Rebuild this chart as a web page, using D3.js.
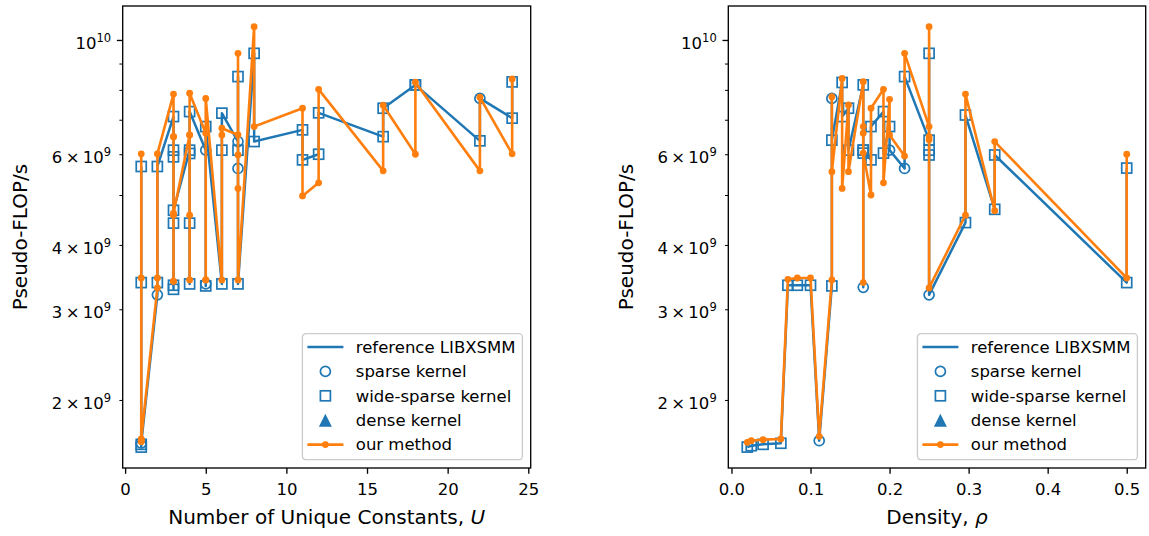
<!DOCTYPE html>
<html>
<head>
<meta charset="utf-8">
<script src="https://cdn.jsdelivr.net/npm/d3@7"></script>
<style>
  body { margin: 0; background: #fff; }
  svg { display: block; }
  text { font-family: "DejaVu Sans", sans-serif; fill: #000; }
</style>
</head>
<body>
<svg id="chart" width="1149" height="536"></svg>
<script>
// ---- data (performance in 1e9 pseudo-FLOP/s) ----
// kernel type: "s" sparse, "w" wide-sparse, "d" dense

// left panel: number of unique constants U
const uVals = [1, 1, 1, 1, 1, 2, 2, 2, 3, 3, 3, 3, 3, 3, 3, 4, 4, 4, 4, 4,
  5, 5, 5, 5, 6, 6, 6, 7, 7, 7, 7, 7, 8, 8, 11, 11, 12, 12, 16, 16, 18, 18, 22, 22, 24, 24];
const uRef = [5.68, 3.38, 1.62, 1.64, 1.65, 3.20, 3.38, 5.68, 7.10, 6.11, 5.93, 3.28, 3.34, 4.41, 4.67,
  6.11, 6.02, 4.41, 3.36, 7.26, 6.11, 3.36, 3.33, 6.79, 3.36, 6.11, 7.21, 6.35, 8.49, 5.63, 6.11, 3.36,
  9.42, 6.35, 6.69, 5.85, 6.00, 7.22, 6.49, 7.37, 8.18, 8.18, 6.37, 7.70, 7.05, 8.29];
const uOurs = [6.01, 3.45, 1.66, 1.67, 1.68, 3.30, 3.45, 6.01, 7.85, 6.49, 6.49, 3.40, 3.40, 4.57, 4.61,
  6.54, 6.54, 4.57, 3.42, 7.88, 6.59, 3.42, 3.42, 7.70, 3.42, 6.54, 6.74, 6.54, 9.42, 5.98, 5.15, 3.42,
  10.61, 6.79, 7.37, 4.98, 5.28, 8.02, 5.57, 7.47, 6.00, 8.28, 5.57, 7.74, 6.01, 8.40];
const uType = ["w", "w", "w", "w", "s", "s", "w", "w", "w", "w", "w", "w", "w", "w", "w",
  "w", "w", "w", "w", "w", "s", "s", "w", "w", "w", "w", "w", "s", "w", "s", "w", "w",
  "w", "w", "w", "w", "w", "w", "w", "w", "w", "w", "w", "s", "w", "w"];

// right panel: density rho
const rhoVals = [0.020, 0.025, 0.040, 0.0625, 0.0714, 0.0833, 0.100, 0.111, 0.127, 0.127, 0.127,
  0.140, 0.140, 0.148, 0.148, 0.1667, 0.1667, 0.1667, 0.1667, 0.1667, 0.1765, 0.1765,
  0.1923, 0.1923, 0.200, 0.200, 0.219, 0.219, 0.25, 0.25, 0.25, 0.25, 0.25,
  0.296, 0.296, 0.333, 0.333, 0.5, 0.5];
const rhoRef = [1.62, 1.63, 1.64, 1.648, 3.34, 3.34, 3.34, 1.667, 3.33, 7.70, 6.39,
  8.27, 7.10, 7.37, 6.11, 8.18, 3.31, 6.11, 6.03, 6.11, 5.85, 6.79,
  7.26, 6.03, 6.79, 6.11, 5.63, 8.49, 6.39, 9.42, 6.11, 5.98, 3.20,
  4.42, 7.15, 4.69, 5.98, 3.38, 5.64];
const rhoOurs = [1.655, 1.667, 1.675, 1.68, 3.43, 3.45, 3.45, 1.70, 3.42, 7.76, 5.55,
  8.42, 5.15, 7.48, 5.55, 8.30, 3.38, 6.79, 6.59, 6.03, 5.00, 7.37,
  8.02, 5.28, 7.67, 6.54, 5.95, 9.42, 6.79, 10.61, 6.49, 6.40, 3.30,
  4.57, 7.85, 4.66, 6.35, 3.45, 6.00];
const rhoType = ["w", "w", "w", "w", "w", "w", "w", "s", "w", "s", "w",
  "w", "w", "w", "w", "w", "s", "w", "w", "w", "w", "w",
  "w", "w", "w", "s", "s", "w", "w", "w", "w", "w", "s",
  "w", "w", "w", "w", "w", "w"];

// ticks
const uTicks = [0, 5, 10, 15, 20, 25];
const rhoTicks = [0, 0.1, 0.2, 0.3, 0.4, 0.5];
const yMinor = [2, 3, 4, 5, 6, 7, 8, 9];
const yLabeled = [2, 3, 4, 6];
const legendLabels = ["reference LIBXSMM", "sparse kernel", "wide-sparse kernel", "dense kernel", "our method"];

const blue = "#1f77b4", orange = "#ff7f0e";
const plotTop = 6, plotBottom = 468;

const svg = d3.select("#chart");

// shared log y scale (values in units of 1e9)
const y = d3.scaleLog().domain([1.4755, 11.64]).range([plotBottom, plotTop]);

drawPanel({
  x: d3.scaleLinear().domain([-0.15, 25.15]).range([122.7, 530.7]),
  ticks: uTicks, fmt: d3.format("d"),
  xs: uVals, ref: uRef, ours: uOurs, types: uType,
  label: ["Number of Unique Constants, ", "U"],
  ylabelX: 20
});

drawPanel({
  x: d3.scaleLinear().domain([-0.004, 0.524]).range([728.3, 1145.7]),
  ticks: rhoTicks, fmt: d3.format(".1f"),
  xs: rhoVals, ref: rhoRef, ours: rhoOurs, types: rhoType,
  label: ["Density, ", "\u03c1"],
  ylabelX: 625.5
});

function drawPanel(cfg) {
  const x = cfg.x;
  const [x0, x1] = x.range();
  const g = svg.append("g");

  const pts = cfg.xs.map((v, i) => ({ x: v, ref: cfg.ref[i], ours: cfg.ours[i], type: cfg.types[i] }));

  // x axis
  const gx = g.append("g")
    .attr("transform", "translate(0," + plotBottom + ")")
    .call(d3.axisBottom(x).tickValues(cfg.ticks).tickFormat(cfg.fmt).tickSize(5.8).tickPadding(9.5));
  gx.select(".domain").remove();

  // y axis: minor ticks (2..9 e9) and major tick (1e10)
  const gyMinor = g.append("g")
    .attr("transform", "translate(" + x0 + ",0)")
    .call(d3.axisLeft(y).tickValues(yMinor).tickSize(3.3).tickPadding(8.3)
      .tickFormat(d => (yLabeled.includes(d) ? d : "")));
  const gyMajor = g.append("g")
    .attr("transform", "translate(" + x0 + ",0)")
    .call(d3.axisLeft(y).tickValues([10]).tickSize(5.8).tickPadding(5.8).tickFormat(d => d));
  gyMinor.select(".domain").remove();
  gyMajor.select(".domain").remove();
  gyMinor.selectAll(".tick line").attr("stroke-width", 1);

  [gx, gyMinor, gyMajor].forEach(a => {
    a.attr("font-size", null).attr("font-family", null);
    a.selectAll(".tick line").attr("stroke", "#000");
    a.selectAll(".tick text").style("font-size", "16.5px").attr("fill", "#000");
  });
  gx.selectAll(".tick line").attr("stroke-width", 1.33);
  gyMajor.selectAll(".tick line").attr("stroke-width", 1.33);

  // mathtext-like labels: 6 × 10^9, 10^10
  [gyMinor, gyMajor].forEach(a => {
    a.selectAll(".tick text").each(function (d) {
      const t = d3.select(this);
      const txt = t.text();
      t.text(null).attr("dy", "0.52em");
      if (!txt) return;
      if (d === 10) {
        t.append("tspan").text("10");
        t.append("tspan").style("font-size", "11.5px").attr("dy", "-0.62em").text("10");
      } else {
        t.append("tspan").text(d + "\u2009\u00d7\u200910");
        t.append("tspan").style("font-size", "11.5px").attr("dy", "-0.62em").text("9");
      }
    });
  });

  // axis labels
  const xl = g.append("text")
    .attr("x", (x0 + x1) / 2).attr("y", 524)
    .attr("text-anchor", "middle")
    .style("font-size", "20px");
  xl.append("tspan").text(cfg.label[0]);
  xl.append("tspan").style("font-style", "italic").text(cfg.label[1]);

  g.append("text")
    .attr("transform", "translate(" + cfg.ylabelX + "," + (plotTop + plotBottom) / 2 + ") rotate(-90)")
    .attr("text-anchor", "middle")
    .attr("dominant-baseline", "central")
    .style("font-size", "20px")
    .text("Pseudo-FLOP/s");

  // reference line and markers
  const refLine = d3.line().x(d => x(d.x)).y(d => y(d.ref));
  g.append("path").datum(pts)
    .attr("d", refLine)
    .attr("fill", "none").attr("stroke", blue).attr("stroke-width", 2.5)
    .attr("stroke-linejoin", "round");

  g.selectAll("circle.sparse").data(pts.filter(d => d.type === "s")).enter()
    .append("circle").attr("class", "sparse")
    .attr("cx", d => x(d.x)).attr("cy", d => y(d.ref)).attr("r", 5)
    .attr("fill", "none").attr("stroke", blue).attr("stroke-width", 1.7);

  g.selectAll("rect.wide").data(pts.filter(d => d.type === "w")).enter()
    .append("rect").attr("class", "wide")
    .attr("x", d => x(d.x) - 5).attr("y", d => y(d.ref) - 5)
    .attr("width", 10).attr("height", 10)
    .attr("fill", "none").attr("stroke", blue).attr("stroke-width", 1.7);

  g.selectAll("path.dense").data(pts.filter(d => d.type === "d")).enter()
    .append("path").attr("class", "dense")
    .attr("transform", d => "translate(" + x(d.x) + "," + y(d.ref) + ")")
    .attr("d", "M0,-5.5L5.5,5.5L-5.5,5.5Z").attr("fill", blue);

  // our method
  const oursLine = d3.line().x(d => x(d.x)).y(d => y(d.ours));
  g.append("path").datum(pts)
    .attr("d", oursLine)
    .attr("fill", "none").attr("stroke", orange).attr("stroke-width", 2.6)
    .attr("stroke-linejoin", "round");
  g.selectAll("circle.ours").data(pts).enter()
    .append("circle").attr("class", "ours")
    .attr("cx", d => x(d.x)).attr("cy", d => y(d.ours)).attr("r", 3.4)
    .attr("fill", orange);

  // frame
  g.append("rect")
    .attr("x", x0).attr("y", plotTop)
    .attr("width", x1 - x0).attr("height", plotBottom - plotTop)
    .attr("fill", "none").attr("stroke", "#000").attr("stroke-width", 1.33);

  // legend (lower right)
  const lw = 220, lh = 126;
  const lx = x1 - 8.3 - lw, ly = plotBottom - 8.3 - lh;
  const lg = g.append("g").attr("transform", "translate(" + lx + "," + ly + ")");
  lg.append("rect")
    .attr("width", lw).attr("height", lh).attr("rx", 3.5)
    .attr("fill", "#fff").attr("fill-opacity", 0.8)
    .attr("stroke", "#cccccc").attr("stroke-width", 1.33);

  legendLabels.forEach((name, i) => {
    const cy = 13.3 + i * 24.4;
    const row = lg.append("g").attr("transform", "translate(0," + cy + ")");
    if (i === 0) {
      row.append("line").attr("x1", 5).attr("x2", 41).attr("stroke", blue).attr("stroke-width", 2.5);
    } else if (i === 1) {
      row.append("circle").attr("cx", 23).attr("r", 5)
        .attr("fill", "none").attr("stroke", blue).attr("stroke-width", 1.7);
    } else if (i === 2) {
      row.append("rect").attr("x", 18).attr("y", -5).attr("width", 10).attr("height", 10)
        .attr("fill", "none").attr("stroke", blue).attr("stroke-width", 1.7);
    } else if (i === 3) {
      row.append("path").attr("transform", "translate(23,0)")
        .attr("d", "M0,-6.5L6.5,6.5L-6.5,6.5Z").attr("fill", blue);
    } else {
      row.append("line").attr("x1", 5).attr("x2", 41).attr("stroke", orange).attr("stroke-width", 2.6);
      row.append("circle").attr("cx", 23).attr("r", 3.4).attr("fill", orange);
    }
    row.append("text").attr("x", 53.4).attr("y", 5.8)
      .style("font-size", "16.5px").text(name);
  });
}
</script>
</body>
</html>
